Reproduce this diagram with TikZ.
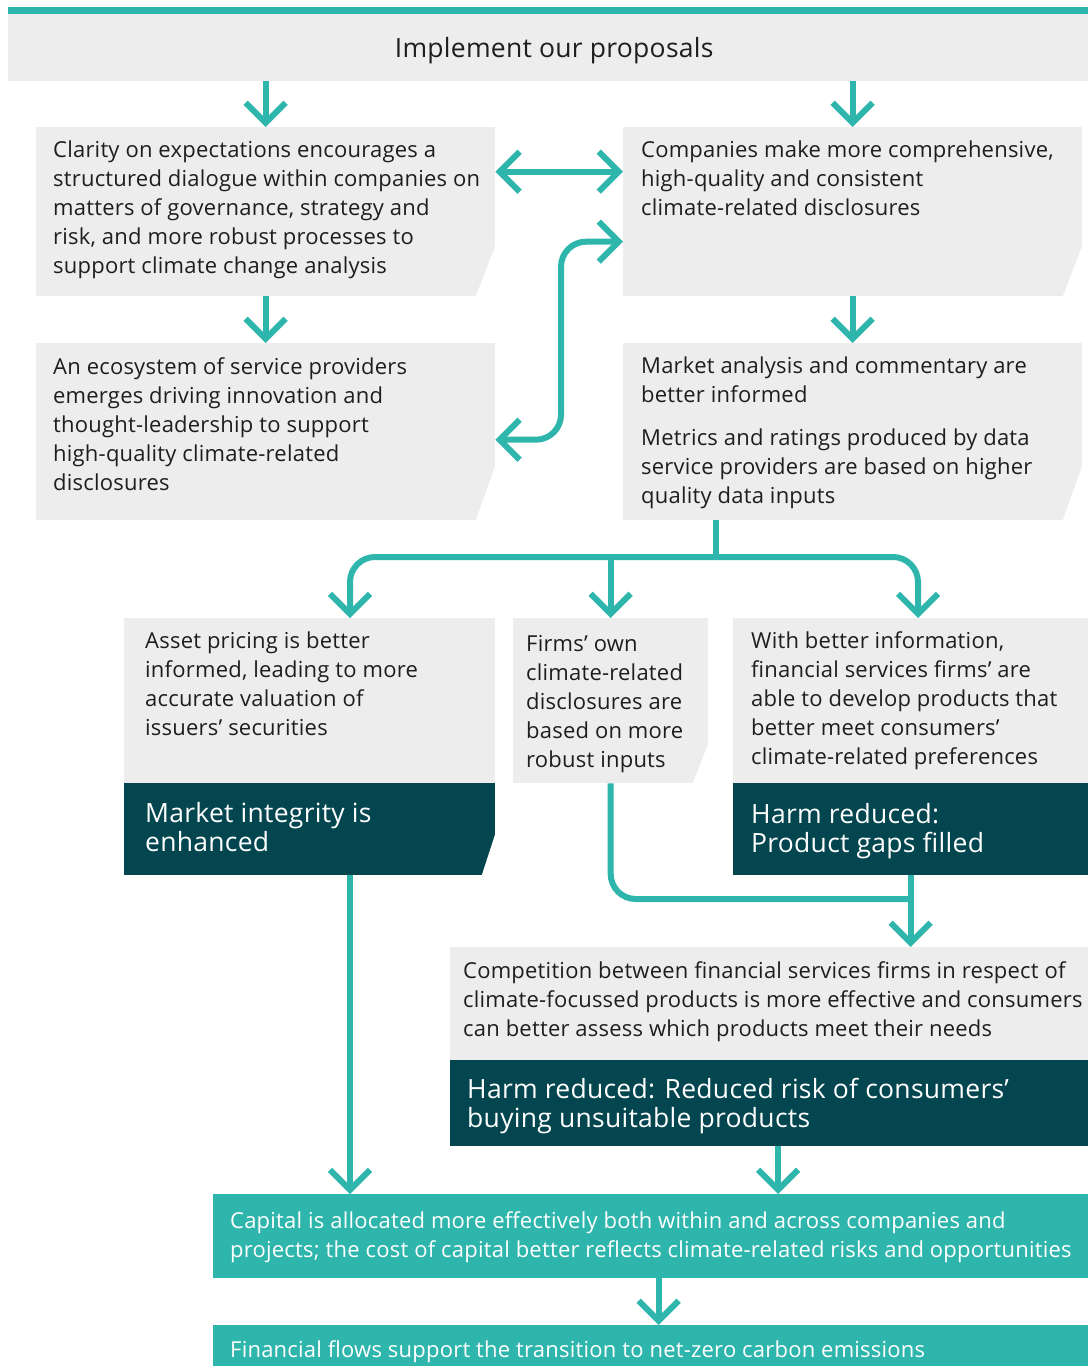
\documentclass[tikz,border=0pt]{standalone}
\usepackage{fontspec}
\setmainfont[LetterSpace=1]{Open Sans}
\usepackage{xcolor}
\usetikzlibrary{arrows.meta}

\definecolor{fcateal}{HTML}{2EB5AC}
\definecolor{fcadark}{HTML}{03464F}
\definecolor{fcagrey}{HTML}{EDEDED}
\definecolor{fcatext}{HTML}{1E1E1E}

% white wedge that cuts the lower right corner of a box
\newcommand{\cutcorner}[3]{\fill[white] (#1.south east) +(0,-#2) -- +(1,-#2) -- +(1,1) -- +(-#3,1) -- cycle;}

\begin{document}
\begin{tikzpicture}[x=1pt,y=-1pt,
    greybox/.style={fill=fcagrey,inner sep=0pt,anchor=north west},
    darkbox/.style={fill=fcadark,inner sep=0pt,anchor=north west},
    tealbox/.style={fill=fcateal,inner sep=0pt,anchor=north west},
    txt/.style={anchor=north west,align=left,inner sep=0pt,text=fcatext,font=\fontsize{22}{29}\selectfont},
    bigtxt/.style={anchor=north west,align=left,inner sep=0pt,text=white,font=\fontsize{26.5}{29}\selectfont},
    wtxt/.style={anchor=north west,align=left,inner sep=0pt,text=white,font=\fontsize{22}{29}\selectfont},
    link/.style={draw=fcateal,line width=6pt},
    flow/.style={link,-{Straight Barb[length=20pt,width=40pt]}},
    flowboth/.style={link,{Straight Barb[length=20pt,width=40pt]}-{Straight Barb[length=20pt,width=40pt]}}]

    \useasboundingbox (0,0) rectangle (1088,1366);

    % header
    \fill[fcateal] (8,7) rectangle (1088,14);
    \node[greybox,minimum width=1080,minimum height=67] (header) at (8,14) {};
    \node[text=fcatext,font=\fontsize{26.5}{29}\selectfont,inner sep=0pt] (headertext) at ([xshift=6,yshift=-3]header.center) {Implement our proposals};

    % first two rows
    \node[greybox,minimum width=459,minimum height=169] (clarity) at (36,127) {};
    \node[greybox,minimum width=459,minimum height=169] (companies) at (623,127) {};
    \node[greybox,minimum width=459,minimum height=177] (ecosystem) at (36,343) {};
    \node[greybox,minimum width=459,minimum height=177] (markets) at (623,343) {};
    \cutcorner{clarity}{51}{20}
    \cutcorner{companies}{51}{20}
    \cutcorner{ecosystem}{55}{20}
    \cutcorner{markets}{55}{20}

    \node[txt] (claritytext) at (53,141) {Clarity on expectations encourages a\\structured dialogue within companies on\\matters of governance, strategy and\\risk, and more robust processes to\\support climate change analysis};
    \node[txt] (companiestext) at (641,141) {Companies make more comprehensive,\\high-quality and consistent\\climate-related disclosures};
    \node[txt] (ecosystemtext) at (53,357) {An ecosystem of service providers\\emerges driving innovation and\\thought-leadership to support\\high-quality climate-related\\disclosures};
    \node[txt] (marketstext) at (641,357) {Market analysis and commentary are\\better informed\\[14pt]Metrics and ratings produced by data\\service providers are based on higher\\quality data inputs};

    % third row
    \node[greybox,minimum width=371,minimum height=165] (asset) at (124,618) {};
    \node[darkbox,minimum width=371,minimum height=92] (integrity) at (124,783) {};
    \node[greybox,minimum width=195,minimum height=165] (firms) at (513,618) {};
    \node[greybox,minimum width=355,minimum height=165] (better) at (733,618) {};
    \node[darkbox,minimum width=355,minimum height=92] (gaps) at (733,783) {};
    \cutcorner{integrity}{42}{14}
    \cutcorner{firms}{40}{16}

    \node[txt] (assettext) at (145,632) {Asset pricing is better\\informed, leading to more\\accurate valuation of\\issuers’ securities};
    \node[bigtxt] (integritytext) at (145,802) {Market integrity is\\enhanced};
    \node[txt] (firmstext) at (526,635) {Firms’ own\\climate-related\\disclosures are\\based on more\\robust inputs};
    \node[txt] (bettertext) at (751,631) {With better information,\\financial services firms’ are\\able to develop products that\\better meet consumers’\\climate-related preferences};
    \node[bigtxt] (gapstext) at (751,803) {Harm reduced:\\Product gaps filled};

    % competition
    \node[greybox,minimum width=638,minimum height=113] (competition) at (450,947) {};
    \node[darkbox,minimum width=638,minimum height=86] (harm) at (450,1060) {};
    \node[txt] (competitiontext) at (463,961) {Competition between financial services firms in respect of\\climate-focussed products is more effective and consumers\\can better assess which products meet their needs};
    \node[bigtxt] (harmtext) at (467,1078) {Harm reduced: Reduced risk of consumers’\\buying unsuitable products};

    % outcomes
    \node[tealbox,minimum width=875,minimum height=84] (capital) at (213,1194) {};
    \node[tealbox,minimum width=875,minimum height=42] (flows) at (213,1325) {};
    \node[wtxt] (capitaltext) at (230,1211) {Capital is allocated more effectively both within and across companies and\\projects; the cost of capital better reflects climate-related risks and opportunities};
    \node[wtxt] (flowstext) at (230,1340) {Financial flows support the transition to net-zero carbon emissions};

    % connectors
    \coordinate (split) at (716,557);
    \coordinate (leftcol) at (350,0);
    \coordinate (rightcol) at (918,0);
    \coordinate (merge) at (910,899);
    \coordinate (bend) at (561,340);

    \draw[flow] (clarity.north |- header.south) -- (clarity.north);
    \draw[flow] (companies.north |- header.south) -- (companies.north);
    \draw[flowboth] ([yshift=40]clarity.east) -- ([yshift=40]companies.west);
    \draw[flowboth,rounded corners=25] ([yshift=-30]companies.west) -| (bend) |- ([yshift=-8]ecosystem.east);
    \draw[flow] (clarity.south) -- (ecosystem.north);
    \draw[flow] (companies.south) -- (markets.north);

    \draw[link] (markets.south -| split) -- (split);
    \draw[flow,rounded corners=25] (split) -| (leftcol |- asset.north);
    \draw[flow,rounded corners=25] (split) -| (rightcol |- better.north);
    \draw[flow] (firms.north |- split) -- (firms.north);

    \draw[link,rounded corners=25] (firms.south) |- (merge);
    \draw[flow] (gaps.south) -- (gaps.south |- competition.north);
    \draw[flow] (leftcol |- integrity.south) -- (leftcol |- capital.north);
    \draw[flow] ([xshift=9]harm.south) -- ([xshift=9]harm.south |- capital.north);
    \draw[flow] ([xshift=8]capital.south) -- ([xshift=8]capital.south |- flows.north);

\end{tikzpicture}
\end{document}
